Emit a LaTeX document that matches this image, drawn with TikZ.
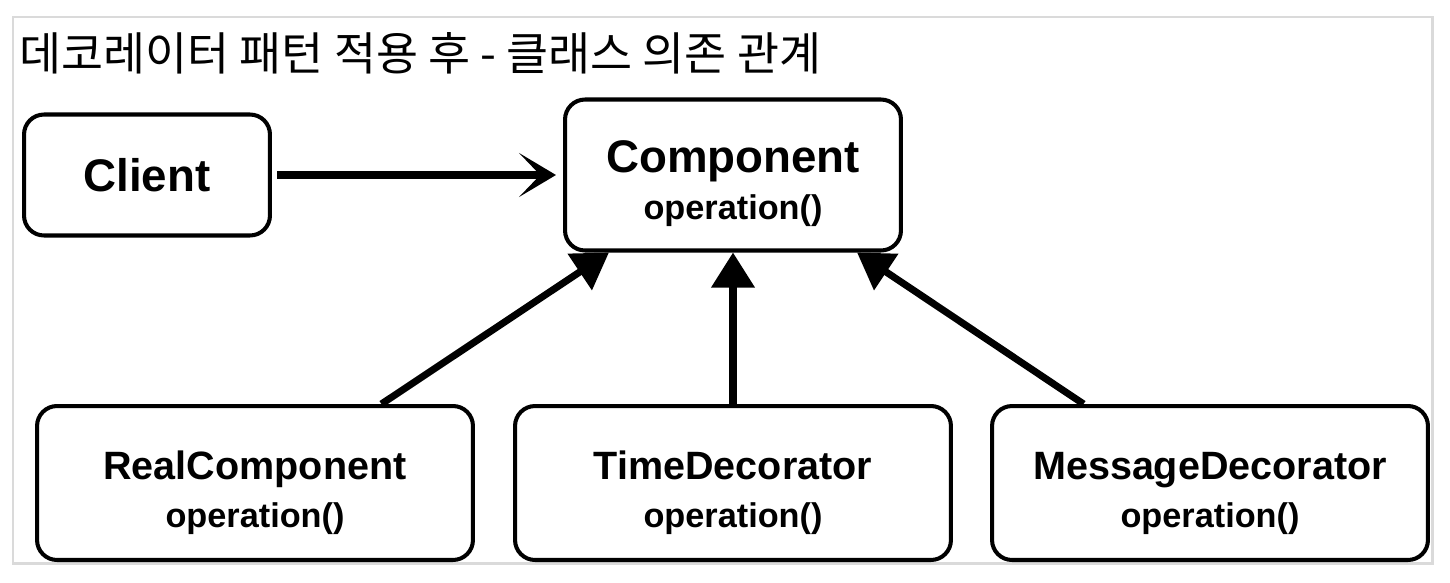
\documentclass[tikz,border=0pt]{standalone}
\usepackage{fontspec}
\setmainfont{Liberation Sans}
\newfontfamily\krfont{Noto Sans CJK KR}
\usetikzlibrary{arrows.meta}
\definecolor{framegray}{RGB}{218,218,218}
\newcommand{\clsname}{\fontsize{26pt}{24.5pt}\selectfont\bfseries}
\newcommand{\subname}{\fontsize{22.5pt}{25pt}\selectfont\bfseries}
\newcommand{\opname}{\fontsize{19.5pt}{24.5pt}\selectfont\bfseries}

\begin{document}
\begin{tikzpicture}[x=0.02cm, y=-0.02cm,
	box/.style={draw, line width=2.3pt, rounded corners=0.4cm, align=center, inner sep=0pt},
	use/.style={line width=4pt, shorten <=3pt, shorten >=4pt, -{Stealth[length=21pt,width=25pt,inset=12pt]}},
	dep/.style={line width=4pt, -{Triangle[length=20pt,width=24pt]}}]
%	\draw [help lines] (0,0) grid (1450,582);
	\useasboundingbox (0,0) rectangle (1450,582);
	\draw [framegray, line width=1.7pt] (13,17) rectangle (1432,563);
	\node [anchor=west, inner sep=0pt, font=\krfont\fontsize{26pt}{30pt}\selectfont] (title) at (19,53) {데코레이터 패턴 적용 후 - 클래스 의존 관계};

	\node [box, minimum width=4.92cm, minimum height=2.42cm, font=\clsname] (client) at (147,175) {Client};
	\node [box, minimum width=6.72cm, minimum height=3.02cm, font=\opname] (comp) at (733,175) {{\clsname\rule{0pt}{28pt}Component}\\[2pt]operation()};

	\node [box, minimum width=8.72cm, minimum height=3.08cm, font=\opname] (real) at (255,483) {{\subname\rule{0pt}{27pt}RealComponent}\\[3pt]operation()};
	\node [box, minimum width=8.72cm, minimum height=3.08cm, font=\opname] (time) at (733,483) {{\subname\rule{0pt}{27pt}TimeDecorator}\\[3pt]operation()};
	\node [box, minimum width=8.72cm, minimum height=3.08cm, font=\opname] (msg) at (1210,483) {{\subname\rule{0pt}{27pt}MessageDecorator}\\[3pt]operation()};

	\draw [use] (client) -- (client -| comp.west);
	\draw [dep] (real.32) -- (comp.212);
	\draw [dep] (time.north) -- (comp.south);
	\draw [dep] (msg.148) -- (comp.328);
\end{tikzpicture}
\end{document}
